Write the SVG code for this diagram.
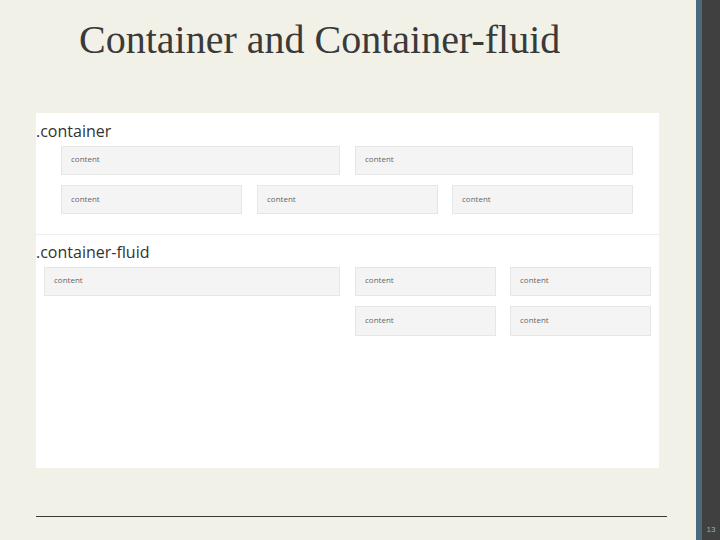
<svg xmlns="http://www.w3.org/2000/svg" width="720" height="540" viewBox="0 0 720 540">
<style>
.box{fill:#f4f4f4;stroke:#e6e6e6;stroke-width:1}
.ct{font-family:"Open Sans","Liberation Sans",sans-serif;font-size:8px;fill:#666}
.hd{font-family:"Open Sans","Liberation Sans",sans-serif;font-size:16px;fill:#333}
</style>
<rect x="0" y="0" width="720" height="540" fill="#f2f1e7"/>
<rect x="696" y="0" width="6" height="540" fill="#4b6b7d"/>
<rect x="702" y="0" width="18" height="540" fill="#404040"/>
<text x="711" y="532" font-family="Liberation Sans, sans-serif" font-size="8" fill="#aaa" text-anchor="middle">13</text>
<text x="79" y="52.5" font-family="Liberation Serif, serif" font-size="40" fill="#3a3a3a">Container and Container-fluid</text>
<line x1="36" y1="516.5" x2="667" y2="516.5" stroke="#3a3a30" stroke-width="1.2"/>
<g id="panel">
<rect x="36" y="113" width="623" height="355" fill="#ffffff"/>
<line x1="36" y1="234.5" x2="659" y2="234.5" stroke="#eeeeee" stroke-width="1"/>
</g>
<g id="container">
<text class="hd" x="36" y="137">.container</text>
<g id="c1"><rect class="box" x="61.5" y="146.5" width="278" height="28"/><text class="ct" x="71" y="162">content</text></g>
<g id="c2"><rect class="box" x="355.5" y="146.5" width="277" height="28"/><text class="ct" x="365" y="162">content</text></g>
<g id="c3"><rect class="box" x="61.5" y="185.5" width="180" height="28"/><text class="ct" x="71" y="202">content</text></g>
<g id="c4"><rect class="box" x="257.5" y="185.5" width="180" height="28"/><text class="ct" x="267" y="202">content</text></g>
<g id="c5"><rect class="box" x="452.5" y="185.5" width="180" height="28"/><text class="ct" x="462" y="202">content</text></g>
</g>
<g id="container-fluid">
<text class="hd" x="36" y="258">.container-fluid</text>
<g id="f1"><rect class="box" x="44.5" y="267.5" width="295" height="28"/><text class="ct" x="54" y="283">content</text></g>
<g id="f2"><rect class="box" x="355.5" y="267.5" width="140" height="28"/><text class="ct" x="365" y="283">content</text></g>
<g id="f3"><rect class="box" x="510.5" y="267.5" width="140" height="28"/><text class="ct" x="520" y="283">content</text></g>
<g id="f4"><rect class="box" x="355.5" y="306.5" width="140" height="29"/><text class="ct" x="365" y="323">content</text></g>
<g id="f5"><rect class="box" x="510.5" y="306.5" width="140" height="29"/><text class="ct" x="520" y="323">content</text></g>
</g>
</svg>
